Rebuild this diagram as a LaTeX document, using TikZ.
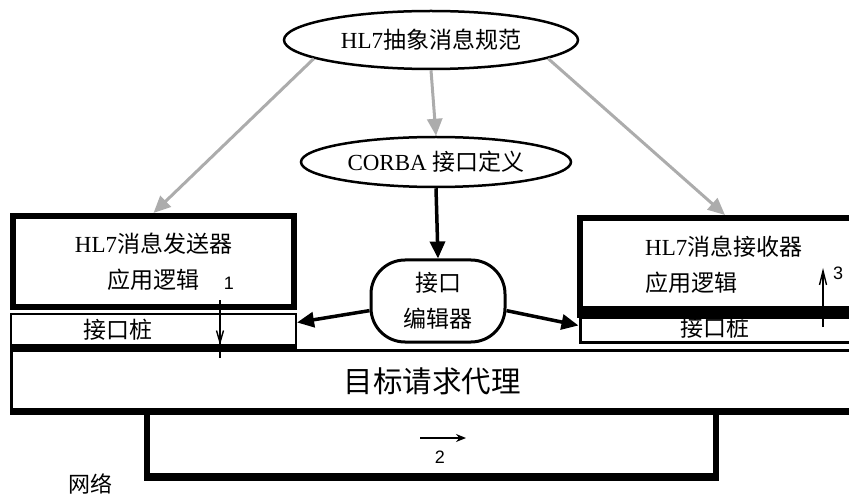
\documentclass[tikz,border=0pt]{standalone}
\usepackage{fontspec}
\usepackage{tikz}
\setmainfont{Liberation Serif}
\newfontfamily\cjk{Noto Sans CJK SC}
\newfontfamily\numfont{Liberation Sans}
\usetikzlibrary{shapes.geometric,arrows.meta}
\tikzset{
  ell/.style={ellipse,draw,line width=2.5pt,inner sep=0pt},
  box/.style={draw,line width=6pt,inner sep=0pt,align=center},
  stub/.style={draw,line width=2pt,inner sep=0pt},
  grayarrow/.style={draw=gray!65,line width=3pt,-{Triangle[length=17pt,width=15pt]}},
  blackarrow/.style={draw,line width=3.5pt,-{Triangle[length=17pt,width=15pt]}},
  numarrow/.style={draw,line width=1.4pt},
  txt/.style={font=\fontsize{23}{36}\selectfont,inner sep=0pt},
  numtxt/.style={font=\numfont\fontsize{18}{18}\selectfont,inner sep=0pt},
}
\begin{document}
\begin{tikzpicture}[x=1pt,y=-1pt]
\useasboundingbox (0,0) rectangle (849,497);
\clip (0,0) rectangle (849,497);

\node[ell,txt,minimum width=294pt,minimum height=58pt] (spec) at (431,40) {HL7{\cjk 抽象消息规范}};
\node[ell,txt,minimum width=270pt,minimum height=50pt] (corba) at (436,162) {CORBA {\cjk 接口定义}};
\node[draw,line width=3pt,rounded corners=34pt,minimum width=134pt,minimum height=82pt,txt,align=center] (editor) at (438,301) {\cjk 接口\\\cjk 编辑器};

\node[box,txt,minimum width=281pt,minimum height=91pt] (sender) at (153.5,261.5) {HL7{\cjk 消息发送器}\\{\cjk 应用逻辑}};
\node[stub,minimum width=285pt,minimum height=33pt] (senderstub) at (153.5,330.5) {};
\draw[line width=8pt] (senderstub.south west) -- (senderstub.south east);
\node[txt] at (118,330) {\cjk 接口桩};

\node[box,minimum width=290pt,minimum height=91pt] (receiver) at (725,263.5) {};
\draw[line width=12pt] (receiver.south west) -- (receiver.south east);
\node[txt,align=left,anchor=west] at (645,265) {HL7{\cjk 消息接收器}\\{\cjk 应用逻辑}};
\node[stub,line width=3pt,minimum width=290pt,minimum height=25pt] (receiverstub) at (725,329.5) {};
\node[txt] at (715,328) {\cjk 接口桩};

\node[draw,line width=3pt,minimum width=860pt,minimum height=60pt,inner sep=0pt] (orb) at (441.5,380) {};
\draw[line width=7pt] (orb.south west) -- (orb.south east);
\node[txt,font=\cjk\fontsize{29.5}{29.5}\selectfont] at (432,381) {目标请求代理};

\draw[line width=6pt] (147,412) -- (147,476) -- (716,476) -- (716,412);
\draw[line width=6pt] (144,478) -- (719,478);
\node[txt,font=\cjk\fontsize{22}{22}\selectfont] (net) at (90,484) {网络};

\draw[grayarrow] (spec.south) -- (corba.north);
\draw[grayarrow] (spec.189) -- (sender.north);
\draw[grayarrow] (spec.351) -- (receiver.north);
\draw[blackarrow] (corba.south) -- (editor.north);
\draw[blackarrow] (editor.188) -- ([yshift=8pt]senderstub.east);
\draw[blackarrow] (editor.352) -- ([yshift=4pt]receiverstub.west);

\coordinate (a1s) at (220,300);
\coordinate (a1m) at (220,345);
\coordinate (a1e) at (220,358);
\draw[numarrow] (a1s) -- (a1e);
\draw[numarrow,-{Straight Barb[length=12pt,width=7pt]}] (a1s) -- (a1m);
\node[numtxt] (one) at (229,283) {1};

\coordinate (a2s) at (420,438);
\coordinate (a2e) at (466,438);
\draw[numarrow,-{Stealth[length=10pt,width=8pt]}] (a2s) -- (a2e);
\node[numtxt] (two) at (440,457) {2};

\coordinate (a3s) at (823,327);
\coordinate (a3e) at (823,268);
\draw[numarrow,-{Straight Barb[length=14pt,width=7pt]}] (a3s) -- (a3e);
\node[numtxt] (three) at (838,273) {3};
\end{tikzpicture}
\end{document}
